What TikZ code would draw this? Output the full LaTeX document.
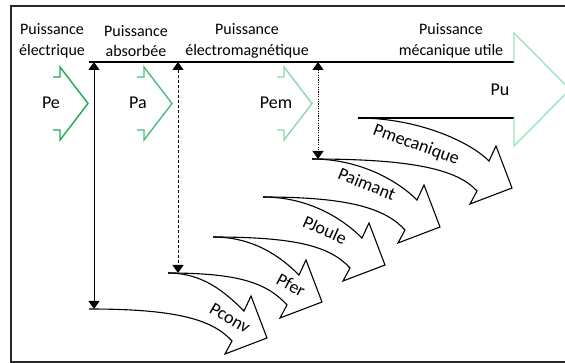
\documentclass[tikz,border=0pt]{standalone}
\usepackage{fontspec}
\setmainfont{Carlito}
\usetikzlibrary{arrows.meta}
\definecolor{gPe}{RGB}{30,170,80}
\definecolor{gPa}{RGB}{75,188,125}
\definecolor{gPem}{RGB}{140,214,172}
\definecolor{gPu}{RGB}{160,226,192}
\definecolor{frame}{RGB}{40,40,40}
\begin{document}
\begin{tikzpicture}[x=1pt,y=-1pt,
  flow/.style={draw=black, line width=1.1pt, line join=miter},
  chev/.style={line width=1.4pt},
  hd/.style={font=\fontsize{16}{20.5}\selectfont, align=center, inner sep=0pt},
  lbl/.style={font=\fontsize{18}{21}\selectfont, inner sep=0pt},
  vtip/.style={{Triangle[width=11pt,length=8pt]}-{Triangle[width=11pt,length=8pt]}, line width=1pt}]
\useasboundingbox (0,0) rectangle (565,363);
\clip (0,0) rectangle (565,363);
\draw[frame, line width=1.3pt] (11,6) rectangle (585,362);

% headings
\node[hd] (h1) at (52,41) {Puissance\\électrique};
\node[hd] (h2) at (136,41) {Puissance\\absorbée};
\node[hd] (h3) at (247,41) {Puissance\\électromagnétique};
\node[hd] (h4) at (451,41) {Puissance\\mécanique utile};

% level points
\coordinate (t0) at (89,62);
\coordinate (t1) at (514,62);
\coordinate (f) at (358,118);
\coordinate (f1) at (514,118);
\coordinate (e) at (312,159);
\coordinate (d) at (263,197);
\coordinate (c) at (213,237);
\coordinate (b) at (168,273);
\coordinate (a) at (89,309);

% Pu arrow
\draw[line width=1.2pt] (t0) -- (t1);
\draw[line width=1.2pt] (f) -- (f1);
\draw[gPu, chev, line join=miter] (t1) -- (514,33) -- (570,89.5) -- (514,146) -- (f1);
\node[lbl] (pu) at (500,90) {Pu};

% green chevrons
\draw[gPe, chev] (53,77) -- (60,77) -- (60,67) -- (88,103.5) -- (60,140) -- (60,130) -- (53,130);
\node[lbl] (pe) at (51,103) {Pe};
\draw[gPa, chev] (137,77) -- (144,77) -- (144,67) -- (172,103.5) -- (144,140) -- (144,130) -- (137,130);
\node[lbl] (pa) at (138,103) {Pa};
\draw[gPem, chev] (277,77) -- (284,77) -- (284,67) -- (312,103.5) -- (284,140) -- (284,130) -- (277,130);
\node[lbl] (pem) at (276,103) {Pem};

% vertical arrows
\coordinate (v1t) at (94,62);  \coordinate (v1b) at (94,309);
\coordinate (v2t) at (178,62); \coordinate (v2b) at (178,273);
\coordinate (v3t) at (318,62); \coordinate (v3b) at (318,159);
\draw[vtip] (v1t) -- (v1b);
\draw[vtip, dash pattern=on 3pt off 2pt] (v2t) -- (v2b);
\draw[vtip, dash pattern=on 1.2pt off 1.2pt] (v3t) -- (v3b);

% curved loss arrows
% Pmecanique: tip (512,188)
\draw[flow] (f) .. controls (417,118) and (469,141) .. (489,161)
  -- (496,146) -- (512,188) -- (470,204) -- (477,191)
  .. controls (457,169) and (411,159) .. (e);
\node[lbl, rotate=-20] (lmec) at (416,145) {Pmecanique};
% Paimant: tip (440,227)
\draw[flow] (e) .. controls (359,159) and (397,180) .. (417,200)
  -- (424,185) -- (440,227) -- (398,243) -- (405,230)
  .. controls (385,208) and (348,197) .. (d);
\node[lbl, rotate=-22] (laim) at (367,184) {Paimant};
% PJoule: tip (385,265)
\draw[flow] (d) .. controls (308,197) and (342,218) .. (362,238)
  -- (369,223) -- (385,265) -- (343,281) -- (350,268)
  .. controls (330,246) and (295,237) .. (c);
\node[lbl, rotate=-24] (ljou) at (325,230) {PJoule};
% Pfer: tip (322,302)
\draw[flow] (c) .. controls (252,237) and (279,255) .. (299,275)
  -- (306,260) -- (322,302) -- (280,318) -- (287,305)
  .. controls (267,283) and (239,273) .. (b);
\node[lbl, rotate=-28] (lfer) at (291,285) {Pfer};
% Pconv: tip (267,338)
\draw[flow] (b) .. controls (202,273) and (224,291) .. (244,311)
  -- (251,296) -- (267,338) -- (225,354) -- (232,341)
  .. controls (212,319) and (175,309) .. (a);
\node[lbl, rotate=-30] (lconv) at (230,318) {Pconv};
\end{tikzpicture}
\end{document}
